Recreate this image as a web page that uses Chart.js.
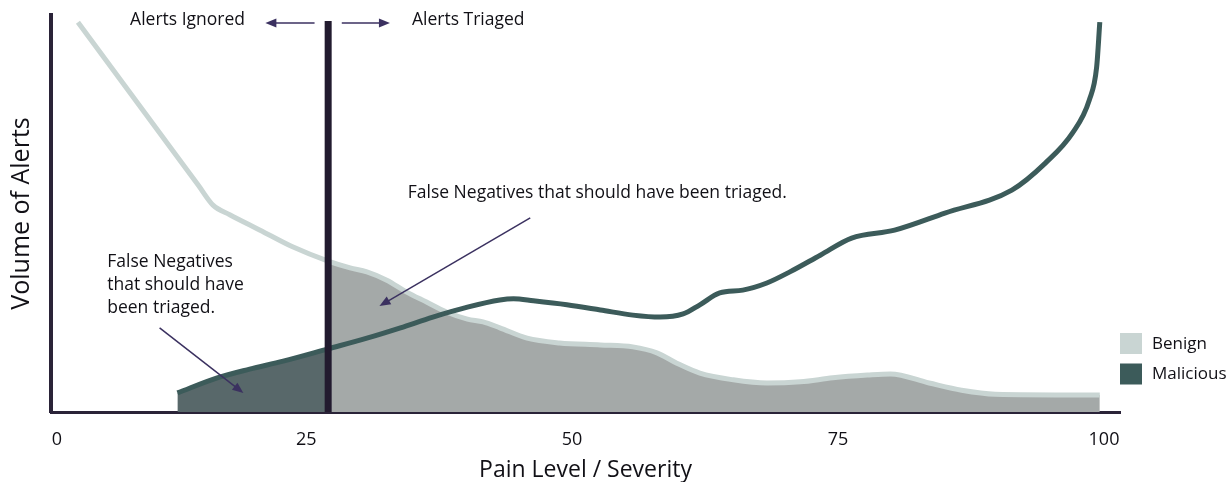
<!DOCTYPE html>
<html>
<head>
<meta charset="utf-8">
<script src="https://cdn.jsdelivr.net/npm/chart.js@4.4.1/dist/chart.umd.min.js"></script>
<style>
  html, body { margin: 0; padding: 0; background: #fff; }
</style>
</head>
<body>
<canvas id="alertChart" width="1232" height="482"></canvas>
<script>
// Alert volume vs. pain level / severity
const seriesNames = ['Benign', 'Malicious'];

// benign alerts (x = severity, y = volume)
const benignX = [2.0, 8.4, 13.5, 14.9, 16.5, 19.4, 22.5, 25.9, 28.0, 29.6, 31.5, 33.4, 35.3, 37.2, 39.2, 40.7, 42.3, 44.9,
                 48.0, 51.9, 55.0, 57.3, 59.2, 61.4, 64.6, 67.8, 71.0, 74.1, 77.4, 79.6, 83.3, 86.4, 89.6, 99.6];
const benignY = [98.2, 75.3, 57.1, 52.1, 49.7, 45.8, 41.6, 38.0, 36.3, 35.3, 33.2, 30.2, 27.7, 25.2, 23.4, 22.7, 21.2, 18.6,
                 17.4, 16.9, 16.4, 14.9, 12.3, 9.8, 8.1, 7.3, 7.6, 8.6, 9.3, 9.6, 7.3, 5.5, 4.5, 4.3];

// malicious alerts
const maliciousX = [11.5, 15.3, 18.4, 21.6, 25.9, 29.6, 32.8, 35.9, 39.2, 42.3, 43.6, 45.5, 48.7, 51.9, 55.0, 57.6,
                    59.8, 61.4, 63.3, 65.5, 67.8, 70.0, 72.9, 75.9, 80.0, 84.8, 91.2, 94.4, 97.0, 98.6, 99.3, 99.6];
const maliciousY = [4.8, 8.6, 10.8, 12.8, 15.9, 18.6, 21.2, 23.9, 26.4, 28.2, 28.5, 28.0, 27.0, 25.7, 24.4, 23.9,
                    24.7, 27.0, 30.0, 30.7, 32.5, 35.3, 39.5, 43.8, 45.8, 50.1, 55.9, 62.7, 70.3, 78.6, 86.9, 98.2];

// triage threshold
const thresholdX = 25.9;
const thresholdTop = 98.5;

// x axis ticks (placed where the picture puts them)
const tickValues = [0, 23.8, 49.2, 74.6, 100];
const tickLabels = ['0', '25', '50', '75', '100'];

const FONT = "'Open Sans', 'Liberation Sans', Arial, sans-serif";
const INK = '#111016';
const AXIS = '#2a2338';
const ARROW = '#3b3160';
const colors = {
    benignLine: '#c9d5d3',
    benignFill: '#a4a9a8',
    maliciousLine: '#3c5b5a',
    maliciousFill: '#58686a',
    threshold: '#221b2f'
};

// annotation texts and arrows, in data units
const notes = [
    { text: 'Alerts Ignored', x: 17.96, y: 98.7, align: 'right' },
    { text: 'Alerts Triaged', x: 33.9, y: 98.7, align: 'left' },
    { text: 'False Negatives that should have been triaged.', x: 33.5, y: 55.2, align: 'left' },
    { text: 'False Negatives', x: 4.8, y: 37.8, align: 'left' },
    { text: 'that should have', x: 4.8, y: 32.0, align: 'left' },
    { text: 'been triaged.', x: 4.8, y: 26.2, align: 'left' }
];
const arrows = [
    { from: [24.6, 98.0], to: [19.9, 98.0] },
    { from: [27.2, 98.0], to: [31.8, 98.0] },
    { from: [45.2, 48.9], to: [30.8, 26.7] },
    { from: [9.8, 21.2], to: [17.8, 4.8] }
];

function toPoints(xs, ys) {
    return xs.map((x, i) => ({ x: x, y: ys[i] }));
}

function drawArrow(ctx, x1, y1, x2, y2) {
    const ang = Math.atan2(y2 - y1, x2 - x1);
    const len = 11, half = 4.5;
    ctx.beginPath();
    ctx.moveTo(x1, y1);
    ctx.lineTo(x2 - Math.cos(ang) * len * 0.8, y2 - Math.sin(ang) * len * 0.8);
    ctx.stroke();
    ctx.beginPath();
    ctx.moveTo(x2, y2);
    ctx.lineTo(x2 - len * Math.cos(ang) + half * Math.sin(ang), y2 - len * Math.sin(ang) - half * Math.cos(ang));
    ctx.lineTo(x2 - len * Math.cos(ang) - half * Math.sin(ang), y2 - len * Math.sin(ang) + half * Math.cos(ang));
    ctx.closePath();
    ctx.fill();
}

const annotationPlugin = {
    id: 'annotations',
    afterDatasetsDraw(chart) {
        const { ctx, scales: { x, y } } = chart;
        ctx.save();
        ctx.fillStyle = INK;
        ctx.font = '17.5px ' + FONT;
        ctx.textBaseline = 'middle';
        notes.forEach(n => {
            ctx.textAlign = n.align;
            ctx.fillText(n.text, x.getPixelForValue(n.x), y.getPixelForValue(n.y));
        });
        ctx.strokeStyle = ARROW;
        ctx.fillStyle = ARROW;
        ctx.lineWidth = 1.5;
        arrows.forEach(a => {
            drawArrow(ctx,
                x.getPixelForValue(a.from[0]), y.getPixelForValue(a.from[1]),
                x.getPixelForValue(a.to[0]), y.getPixelForValue(a.to[1]));
        });
        ctx.restore();
    }
};

// legend on the right, bottom aligned
const legendPlugin = {
    id: 'sideLegend',
    afterDraw(chart) {
        const { ctx, chartArea } = chart;
        const swatches = [colors.benignLine, colors.maliciousLine];
        ctx.save();
        ctx.font = '17px ' + FONT;
        ctx.textBaseline = 'middle';
        ctx.textAlign = 'left';
        seriesNames.forEach((name, i) => {
            const cy = chartArea.bottom - 69 + i * 30.5;
            ctx.fillStyle = swatches[i];
            ctx.fillRect(chartArea.right, cy - 10, 22, 21);
            ctx.fillStyle = INK;
            ctx.fillText(name, chartArea.right + 32, cy + 1);
        });
        ctx.restore();
    }
};

const ctx = document.getElementById('alertChart').getContext('2d');
new Chart(ctx, {
    type: 'line',
    data: {
        datasets: [
            {
                label: 'threshold',
                data: [{ x: thresholdX, y: 0 }, { x: thresholdX, y: thresholdTop }],
                borderColor: colors.threshold,
                borderWidth: 7,
                borderCapStyle: 'butt',
                pointRadius: 0,
                tension: 0,
                fill: false
            },
            {
                label: seriesNames[1],
                data: toPoints(maliciousX, maliciousY),
                borderColor: colors.maliciousLine,
                backgroundColor: colors.maliciousFill,
                borderWidth: 5,
                pointRadius: 0,
                cubicInterpolationMode: 'monotone',
                fill: 'origin',
                segment: {
                    backgroundColor: c => c.p1.parsed.x <= thresholdX ? colors.maliciousFill : 'rgba(0,0,0,0)'
                }
            },
            {
                label: seriesNames[0],
                data: toPoints(benignX, benignY),
                borderColor: colors.benignLine,
                backgroundColor: colors.benignFill,
                borderWidth: 5,
                pointRadius: 0,
                cubicInterpolationMode: 'monotone',
                fill: 'origin',
                segment: {
                    backgroundColor: c => c.p0.parsed.x >= thresholdX ? colors.benignFill : 'rgba(0,0,0,0)'
                }
            }
        ]
    },
    options: {
        responsive: false,
        animation: false,
        events: [],
        layout: {
            padding: { top: 15, right: 112, bottom: 0, left: 0 }
        },
        plugins: {
            legend: { display: false },
            tooltip: { enabled: false }
        },
        scales: {
            x: {
                type: 'linear',
                min: -0.573,
                max: 101.53,
                z: 1,
                afterBuildTicks: scale => {
                    scale.ticks = tickValues.map(v => ({ value: v }));
                },
                grid: { display: false, drawTicks: false },
                border: { display: true, color: AXIS, width: 3 },
                ticks: {
                    autoSkip: false,
                    maxRotation: 0,
                    padding: 17.2,
                    color: INK,
                    font: { family: FONT, size: 18 },
                    callback: (value, index) => tickLabels[index]
                },
                title: {
                    display: true,
                    text: 'Pain Level / Severity',
                    color: INK,
                    font: { family: FONT, size: 23, lineHeight: 1 },
                    padding: { top: -9, bottom: 0 }
                }
            },
            y: {
                type: 'linear',
                min: 0,
                max: 100,
                grid: { display: false, drawTicks: false },
                border: { display: true, color: AXIS, width: 4 },
                ticks: { display: false },
                title: {
                    display: true,
                    text: 'Volume of Alerts',
                    color: INK,
                    font: { family: FONT, size: 25, lineHeight: 1 },
                    padding: { top: 9.5, bottom: 16.5 }
                }
            }
        }
    },
    plugins: [annotationPlugin, legendPlugin]
});
</script>
</body>
</html>
